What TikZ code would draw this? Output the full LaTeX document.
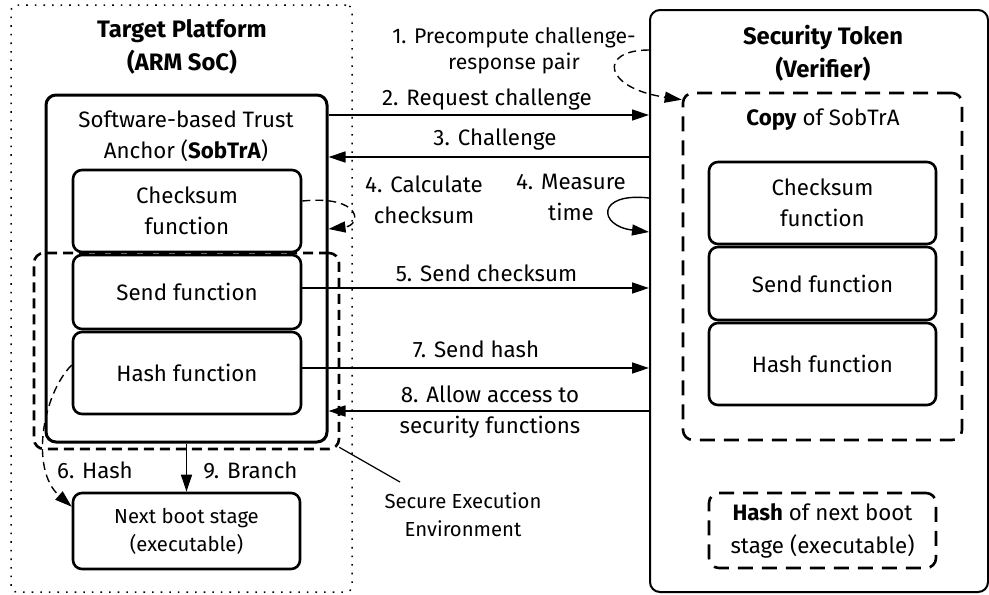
\documentclass[tikz,border=0pt]{standalone}
\usepackage{fontspec}
\setmainfont{Fira Sans}
\usetikzlibrary{arrows.meta,calc}

\begin{document}
\begin{tikzpicture}[x=1pt,y=-1pt,
  every node/.style={font=\fontsize{22.3}{31}\selectfont, align=center, inner sep=0pt},
  small/.style={font=\fontsize{20.3}{28}\selectfont},
  title/.style={font=\bfseries\fontsize{23.8}{33}\selectfont},
  fbox/.style={draw, line width=2.6pt, rounded corners=9pt},
  dbox/.style={draw, line width=2.6pt, rounded corners=10pt, dash pattern=on 15pt off 9pt},
  arr/.style={line width=1.4pt, -{Triangle[length=17pt,width=11pt]}},
  darr/.style={arr, dash pattern=on 8pt off 5pt}]
\useasboundingbox (0,0) rectangle (989,595);

% ---------- Target platform ----------
\node[draw, line width=1.5pt, rounded corners=6pt, dash pattern=on 1.6pt off 7pt,
      minimum width=341pt, minimum height=587pt] (tp) at (181.5,298.5) {};
\node[title] (tpT) at (182,47) {Target Platform\\(ARM SoC)};

\node[fbox, line width=3pt, rounded corners=10pt, minimum width=281pt, minimum height=347pt] (sobtra) at (186.5,268.5) {};
\node (sobtraT) at (186,136) {Software-based Trust\\Anchor (\textbf{SobTrA})};

\node[fbox, minimum width=228pt, minimum height=82pt] (ckL) at (187,211) {Checksum\\function};
\node[fbox, minimum width=228pt, minimum height=74pt] (sendL) at (187,292) {Send function};
\node[fbox, minimum width=228pt, minimum height=82pt] (hashL) at (187,373) {Hash function};

\node[dbox, dash pattern=on 10pt off 6pt, minimum width=305pt, minimum height=196pt] (see) at (186.5,351) {};

\node[fbox, small, minimum width=227pt, minimum height=76pt] (nextB) at (186.5,531) {Next boot stage\\(executable)};

% ---------- Security token ----------
\node[draw, line width=2pt, rounded corners=10pt, minimum width=338pt, minimum height=582pt] (st) at (819,301) {};
\node[title] (stT) at (823,53.5) {Security Token\\(Verifier)};

\node[dbox, minimum width=279pt, minimum height=347pt] (copy) at (822.5,266.5) {};
\node (copyT) at (823,120) {\textbf{Copy} of SobTrA};

\node[fbox, minimum width=227pt, minimum height=82pt] (ckR) at (822.5,203) {Checksum\\function};
\node[fbox, minimum width=227pt, minimum height=73pt] (sendR) at (822.5,283.5) {Send function};
\node[fbox, minimum width=227pt, minimum height=82pt] (hashR) at (822.5,364) {Hash function};

\node[dbox, font=\fontsize{22.3}{33}\selectfont, minimum width=227pt, minimum height=75pt] (hashNext) at (822.5,530.5)
  {\textbf{Hash} of next boot\\stage (executable)};

% ---------- Protocol steps ----------
\node[font=\fontsize{21.2}{26}\selectfont] (l1) at (514,51) {1. Precompute challenge-\\response pair};
\draw[darr] (st.west |- 0,50) .. controls (598,50) and (603,88) .. ([yshift=-8pt]copy.north west);

\node (l2) at (487,100) {2. Request challenge};
\draw[arr] (sobtra.east |- 0,115) -- (st.west |- 0,115);

\node (l3) at (495,140) {3. Challenge};
\draw[arr] (st.west |- 0,157) -- (sobtra.east |- 0,157);

\node (l4a) at (424,199.5) {4. Calculate\\checksum};
\draw[darr] ([yshift=10pt]ckL.east) .. controls (362,195) and (362,225) .. (sobtra.east |- 0,229);

\node (l4b) at (571,197.5) {4. Measure\\time};
\draw[arr] (st.west |- 0,198) .. controls (596,192) and (598,226) .. (st.west |- 0,232);

\node (l5) at (486.5,273) {5. Send checksum};
\draw[arr] ([yshift=4pt]sendL.east) -- (st.west |- 0,288);

\node (l7) at (476,349) {7. Send hash};
\draw[arr] ([yshift=5pt]hashL.east) -- (st.west |- 0,368);

\node (l8) at (490,412) {8. Allow access to\\security functions};
\draw[arr] (st.west |- 0,411) -- (sobtra.east |- 0,411);

\node (l6) at (95,470) {6. Hash};
\draw[darr] ([yshift=8pt]hashL.west) .. controls (42,395) and (30,470) .. ([yshift=-15pt]nextB.north west);

\node (l9) at (250.5,470) {9. Branch};
\draw[arr] (sobtra.south) -- (nextB.north);

% ---------- Secure execution environment ----------
\node[small] (seeT) at (463,515) {Secure Execution\\Environment};
\coordinate (seeEnd) at (400,482);
\draw[line width=1.2pt] ([shift={(-1pt,3pt)}]see.south east) -- (seeEnd);
\end{tikzpicture}
\end{document}
